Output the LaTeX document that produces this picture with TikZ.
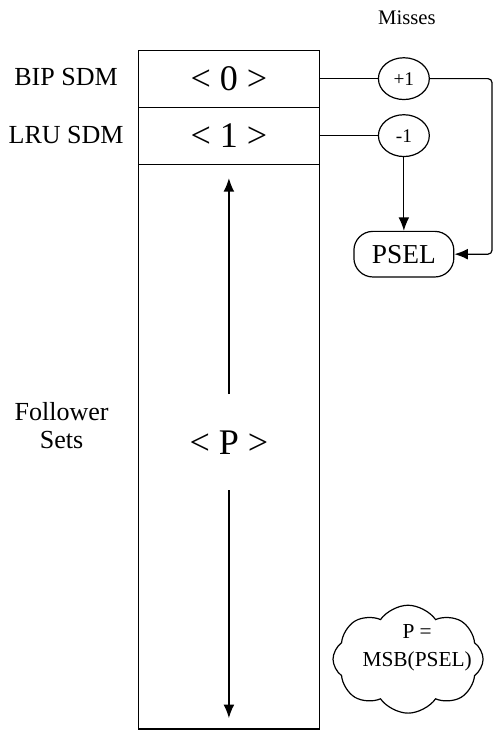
\documentclass[tikz,border=0pt]{standalone}
\usepackage{fontspec}
\setmainfont{Liberation Serif}
\usetikzlibrary{arrows.meta,shapes.geometric,shapes.symbols}

\begin{document}
\begin{tikzpicture}[line width=0.9pt,
    every node/.style={inner sep=0pt},
    lbl/.style={font=\fontsize{19.5}{21}\selectfont, align=center},
    row/.style={draw, minimum width=4.75cm, minimum height=1.5cm, font=\fontsize{27}{30}\selectfont},
    counter/.style={draw, ellipse, minimum width=1.34cm, minimum height=1.1cm, font=\fontsize{14.5}{16}\selectfont},
    arr/.style={-{Latex[length=10pt,width=8pt]}}]
    \useasboundingbox (0,0) rectangle (13,19.24);% fix the margins
    % the sets
    \node[draw, minimum width=4.75cm, minimum height=14.87cm] (fset) at (6.025,7.485) {};% draw the follower sets
    \node[row] (s0) at (6.025,17.17) {< 0 >};% leader set 0
    \node[row] (s1) at (6.025,15.67) {< 1 >};% leader set 1
    \node[font=\fontsize{27}{30}\selectfont, minimum height=2.5cm] (pset) at (6.025,7.6) {< P >};% follower set
    \coordinate (ptop) at (6.025,14.55);
    \coordinate (pbot) at (6.025,0.34);
    \draw[arr] (pset.north) -- (ptop);% up arrow
    \draw[arr] (pset.south) -- (pbot);% down arrow
    % labels on the left
    \node[lbl] (bip) at (1.74,17.2) {BIP SDM};
    \node[lbl] (lru) at (1.74,15.68) {LRU SDM};
    \node[lbl] (fol) at (1.62,8.03) {Follower\\Sets};
    % the counter
    \node[font=\fontsize{15.5}{18}\selectfont] (miss) at (10.71,18.76) {Misses};
    \node[counter] (plus) at (10.63,17.17) {+1};
    \node[counter] (minus) at (10.63,15.67) {-1};
    \node[draw, rounded corners=0.5cm, minimum width=2.63cm, minimum height=1.2cm,
          font=\fontsize{20.5}{24}\selectfont] (psel) at (10.63,12.55) {PSEL};
    \coordinate (bend) at (12.95,12.55);
    \draw (s0) -- (plus);
    \draw (s1) -- (minus);
    \draw[arr, rounded corners=3pt] (plus) -| (bend) -- (psel);
    \draw[arr] (minus) -- (psel);
    % the rule
    \node[draw, cloud, cloud puffs=8, cloud puff arc=110, cloud ignores aspect, minimum width=3.95cm,
          minimum height=2.84cm] (cloud) at (10.74,1.89) {};
    \node[font=\fontsize{16}{21}\selectfont, align=center] (rule) at (10.98,2.2) {P =\\MSB(PSEL)};
\end{tikzpicture}
\end{document}
